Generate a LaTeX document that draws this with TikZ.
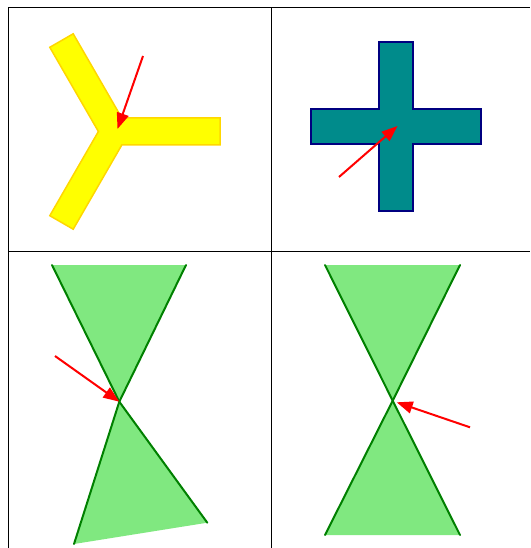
\documentclass[tikz,border=0pt]{standalone}
\usetikzlibrary{arrows.meta}
\definecolor{ylw}{RGB}{255,255,0}
\definecolor{ylwedge}{RGB}{255,215,0}
\definecolor{tealfill}{RGB}{0,139,139}
\definecolor{navyedge}{RGB}{0,0,128}
\definecolor{lgreen}{RGB}{128,232,128}
\definecolor{dgreen}{RGB}{0,128,0}
\tikzset{
  gridline/.style={black, line width=1pt},
  redarrow/.style={red, line width=2pt, -{Triangle[length=16pt,width=12pt]}},
  greenedge/.style={dgreen, line width=2pt, line cap=round},
}
\begin{document}
\begin{tikzpicture}[x=1pt,y=-1pt]
\useasboundingbox (0,0) rectangle (530,548);
% grid
\draw[gridline] (8,548) -- (8,8) -- (530,8);
\draw[gridline] (271,8) -- (271,548);
\draw[gridline] (8,251) -- (530,251);
% Y shape
\fill[ylw, draw=ylwedge, line width=1.5pt, line join=miter]
  (121.8,118) -- (220,118) -- (220,145) -- (121.8,145) -- (73.2,229.2)
  -- (49.8,215.7) -- (98.4,131.5) -- (49.8,47.3) -- (73.2,33.8) -- cycle;
\coordinate (ytail) at (143,56);
\coordinate (ytip) at (117.5,129);
\draw[redarrow] (ytail) -- (ytip);
% Cross
\filldraw[fill=tealfill, draw=navyedge, line width=2pt]
  (379,42) -- (413,42) -- (413,109) -- (481,109) -- (481,144) -- (413,144)
  -- (413,211) -- (379,211) -- (379,144) -- (311,144) -- (311,109) -- (379,109) -- cycle;
\coordinate (ctail) at (339,177);
\coordinate (ctip) at (397.5,126);
\draw[redarrow] (ctail) -- (ctip);
% Bowtie left
\coordinate (la) at (119.3,401.7);
\coordinate (ltl) at (52,265);
\coordinate (ltr) at (186,265);
\coordinate (lbl) at (74,544);
\coordinate (lbr) at (207.3,522.7);
\fill[lgreen] (ltl) -- (ltr) -- (la) -- cycle;
\fill[lgreen] (la) -- (lbr) -- (lbl) -- cycle;
\draw[greenedge] (ltl) -- (la) -- (lbr);
\draw[greenedge] (ltr) -- (la) -- (lbl);
\coordinate (ltail) at (55,356);
\draw[redarrow] (ltail) -- (la);
% Bowtie right
\coordinate (ra) at (392.7,400.7);
\coordinate (rtl) at (325,265);
\coordinate (rtr) at (460,265);
\coordinate (rbl) at (325,535);
\coordinate (rbr) at (460,535);
\fill[lgreen] (rtl) -- (rtr) -- (ra) -- cycle;
\fill[lgreen] (ra) -- (rbr) -- (rbl) -- cycle;
\draw[greenedge] (rtl) -- (ra) -- (rbr);
\draw[greenedge] (rtr) -- (ra) -- (rbl);
\coordinate (rtail) at (470,427.3);
\coordinate (rtip) at (396.7,402.3);
\draw[redarrow] (rtail) -- (rtip);
\end{tikzpicture}
\end{document}
